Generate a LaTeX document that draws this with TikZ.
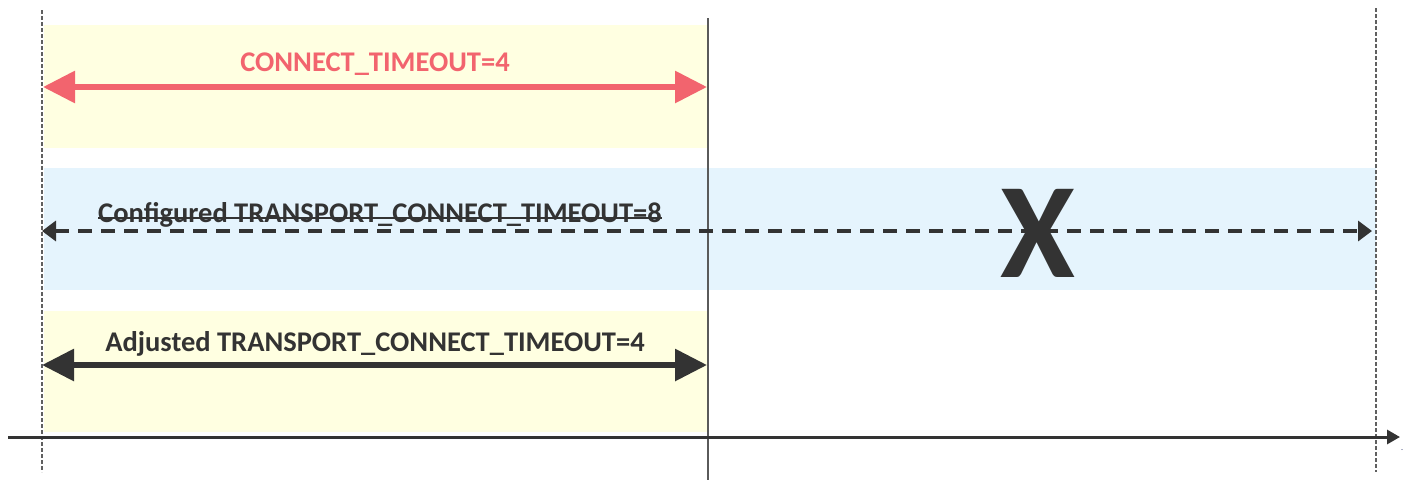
\documentclass[tikz,border=0pt]{standalone}
\usepackage{fontspec}
\setmainfont{Carlito}
\usetikzlibrary{arrows.meta}
\definecolor{bandyellow}{HTML}{FFFFE1}
\definecolor{bandblue}{HTML}{E5F4FD}
\definecolor{timeoutred}{HTML}{F2646E}
\definecolor{ink}{HTML}{333333}
\definecolor{guide}{HTML}{606060}
\tikzset{
  band/.style={draw=none},
  guideline/.style={guide, line width=1.3pt, dash pattern=on 3.5pt off 2.5pt},
  limitline/.style={draw={rgb,255:red,90;green,90;blue,90}, line width=1.4pt},
  bigarrow/.style={line width=6pt, {Triangle[length=32pt,width=31pt]}-{Triangle[length=32pt,width=31pt]}},
  dasharrow/.style={ink, line width=3.5pt, dash pattern=on 14pt off 9pt,
    {Triangle[length=14pt,width=20pt]}-{Triangle[length=14pt,width=20pt]}},
  axis/.style={ink, line width=3pt, -{Triangle[length=13pt,width=14pt]}},
  lbl/.style={inner sep=0pt, anchor=base, font=\bfseries\fontsize{28.5}{34}\selectfont},
}
\begin{document}
\begin{tikzpicture}[x=1pt, y=-1pt]
  \useasboundingbox (0,0) rectangle (1404,480);
  % background bands
  \fill[bandyellow] (44,25) rectangle (707,148);
  \fill[bandblue] (44,168) rectangle (1376,290);
  \fill[bandyellow] (44,311) rectangle (707,432);

  % guide lines and the time limit marker
  \coordinate (gl1) at (42,10);  \coordinate (gl2) at (42,472);
  \coordinate (gr1) at (1376,8); \coordinate (gr2) at (1376,472);
  \coordinate (lim1) at (708,18); \coordinate (lim2) at (708,480);
  \draw[guideline] (gl1) -- (gl2);
  \draw[guideline] (gr1) -- (gr2);
  \draw[limitline] (lim1) -- (lim2);

  % connect timeout
  \coordinate (ctA) at (43,87);  \coordinate (ctB) at (707,87);
  \draw[bigarrow, timeoutred] (ctA) -- (ctB);
  \node[lbl, text=timeoutred] (ctlbl) at (375,71) {CONNECT\_TIMEOUT=4};

  % configured transport timeout (struck out)
  \coordinate (cfA) at (42,231); \coordinate (cfB) at (1372,231);
  \draw[dasharrow] (cfA) -- (cfB);
  \node[lbl, text=ink] (cfg) at (380,222) {Configured TRANSPORT\_CONNECT\_TIMEOUT=8};
  \draw[ink, line width=1.6pt] ([yshift=4pt]cfg.base west) -- ([yshift=4pt]cfg.base east);
  \node[inner sep=0pt, anchor=base, text=ink, font=\bfseries\fontsize{136}{140}\selectfont] (cross) at (1038,277) {X};

  % adjusted transport timeout
  \coordinate (adA) at (42,365); \coordinate (adB) at (707,365);
  \draw[bigarrow, ink] (adA) -- (adB);
  \node[lbl, text=ink] (adj) at (375,351) {Adjusted TRANSPORT\_CONNECT\_TIMEOUT=4};

  % time axis
  \coordinate (ax1) at (8,437); \coordinate (ax2) at (1400,437);
  \draw[axis] (ax1) -- (ax2);
  \node[inner sep=0pt, anchor=base, text={rgb,255:red,20;green,30;blue,90}, font=\fontsize{8}{8}\selectfont] (axlbl) at (1402,450) {.};
\end{tikzpicture}
\end{document}
